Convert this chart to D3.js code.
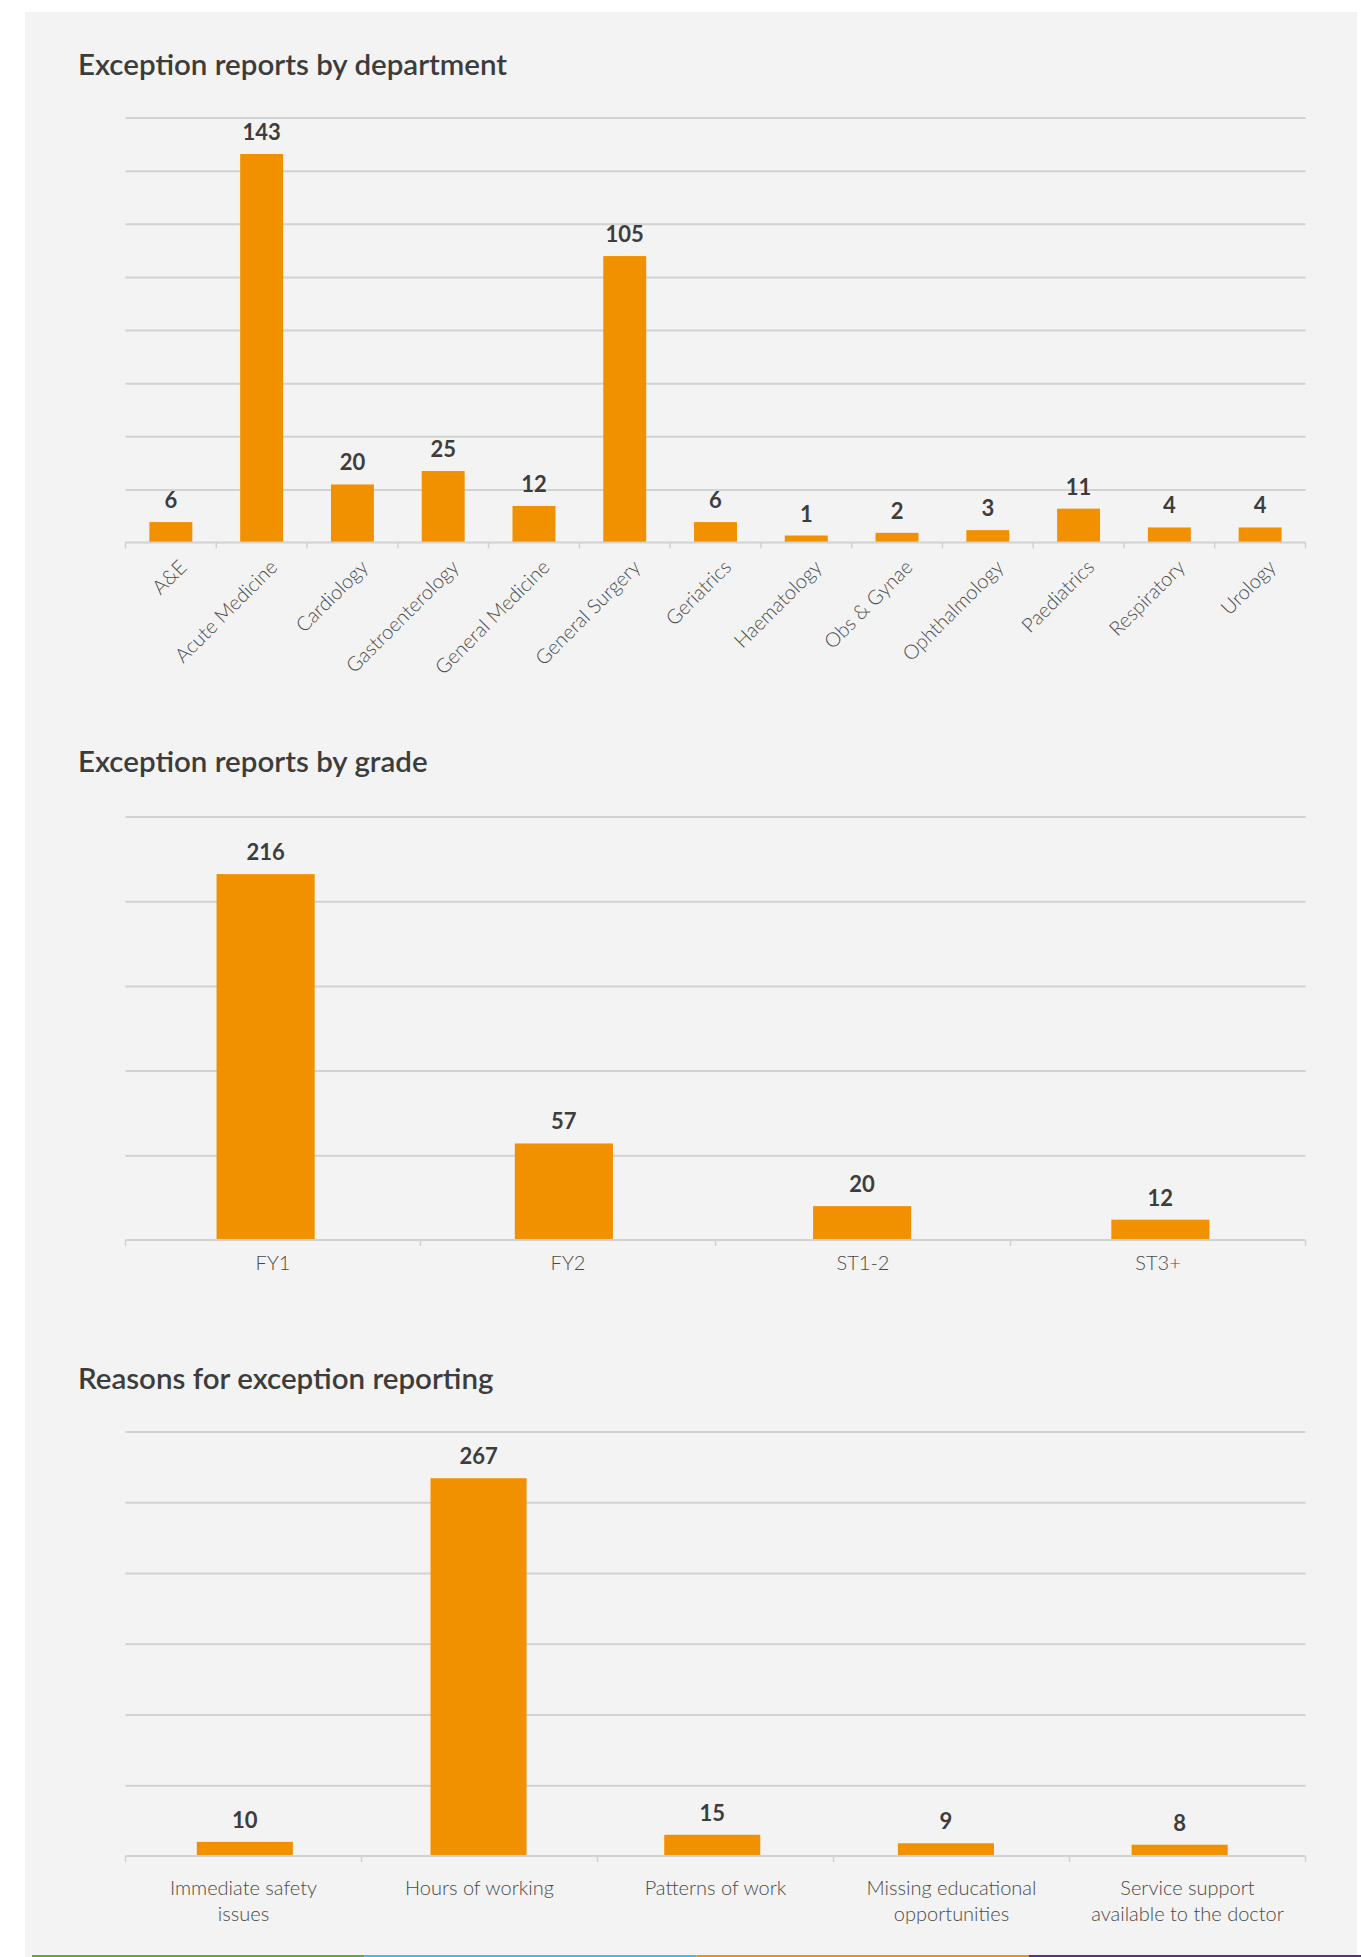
<!DOCTYPE html>
<html>
<head>
<meta charset="utf-8">
<script src="https://cdn.jsdelivr.net/npm/d3@7"></script>
<style>
  body { margin: 0; background: #ffffff; }
  svg { display: block; font-family: Lato, "Open Sans", sans-serif; }
</style>
</head>
<body>
<div id="chart"></div>
<script>
// data
const deptCategories = ['A&E', 'Acute Medicine', 'Cardiology', 'Gastroenterology', 'General Medicine',
  'General Surgery', 'Geriatrics', 'Haematology', 'Obs & Gynae', 'Ophthalmology', 'Paediatrics',
  'Respiratory', 'Urology'];
const deptValues = [6, 143, 20, 25, 12, 105, 6, 1, 2, 3, 11, 4, 4];
const deptTicks = [20, 40, 60, 80, 100, 120, 140, 160];

const gradeCategories = ['FY1', 'FY2', 'ST1-2', 'ST3+'];
const gradeValues = [216, 57, 20, 12];
const gradeTicks = [50, 100, 150, 200, 250];

const reasonCategories = ['Immediate safety\nissues', 'Hours of working', 'Patterns of work',
  'Missing educational\nopportunities', 'Service support\navailable to the doctor'];
const reasonValues = [10, 267, 15, 9, 8];
const reasonTicks = [50, 100, 150, 200, 250, 300];

const stripeColours = ['#5cae2e', '#38c0ee', '#f39200', '#5b2d86'];

const W = 1361, H = 1957;
const ORANGE = '#f29100';
const GRID = '#d2d2d2';

const svg = d3.select('#chart').append('svg')
  .attr('width', W)
  .attr('height', H);

// grey card
svg.append('rect')
  .attr('x', 25).attr('y', 12)
  .attr('width', 1332).attr('height', 1945)
  .attr('fill', '#f3f3f3');

// coloured strip along the bottom
const stripe = d3.scaleBand().domain(d3.range(stripeColours.length)).range([32, 1361]);
svg.selectAll('rect.stripe')
  .data(stripeColours)
  .enter()
  .append('rect')
  .attr('class', 'stripe')
  .attr('x', (d, i) => stripe(i))
  .attr('y', 1955)
  .attr('width', stripe.bandwidth())
  .attr('height', 2)
  .attr('fill', d => d);

function drawChart(opt) {
  const left = 125.5, right = 1305.5;
  const g = svg.append('g');

  g.append('text')
    .attr('x', 78)
    .attr('y', opt.titleY)
    .attr('font-size', 29.5)
    .attr('font-weight', 600)
    .attr('fill', '#3c3c3c')
    .text(opt.title);

  const x = d3.scaleBand()
    .domain(opt.categories)
    .range([left, right])
    .paddingInner(opt.pad)
    .paddingOuter(opt.pad / 2);

  // bars get their own band scale, the original sits a little off the tick grid
  const xb = x.copy().range(opt.barRange || [left, right]);

  const max = opt.ticks[opt.ticks.length - 1];
  const y = d3.scaleLinear().domain([0, max]).range([opt.bottom, opt.top]);
  // value scale of the bars (chart 1 bars are drawn a touch taller than its grid)
  const yv = d3.scaleLinear().domain([0, max]).range(opt.valueRange || [opt.bottom, opt.top]);

  // gridlines
  const grid = g.append('g')
    .attr('transform', `translate(${left},0)`)
    .call(d3.axisRight(y).tickValues(opt.ticks).tickSize(right - left).tickFormat(''));
  grid.select('.domain').remove();
  grid.selectAll('line').attr('stroke', GRID).attr('stroke-width', 2);

  const data = opt.categories.map((c, i) => ({ c: c, v: opt.values[i] }));

  g.selectAll('rect.bar')
    .data(data)
    .enter()
    .append('rect')
    .attr('class', 'bar')
    .attr('x', d => xb(d.c))
    .attr('y', d => yv(d.v))
    .attr('width', xb.bandwidth())
    .attr('height', d => y(0) - yv(d.v))
    .attr('fill', ORANGE);

  // base line with ticks on the category boundaries
  g.append('line')
    .attr('x1', left).attr('x2', right)
    .attr('y1', y(0)).attr('y2', y(0))
    .attr('stroke', GRID).attr('stroke-width', 2);
  g.selectAll('line.bound')
    .data(d3.range(opt.categories.length + 1))
    .enter()
    .append('line')
    .attr('class', 'bound')
    .attr('x1', i => left + i * x.step())
    .attr('x2', i => left + i * x.step())
    .attr('y1', y(0))
    .attr('y2', y(0) + 6)
    .attr('stroke', GRID)
    .attr('stroke-width', 1.5);

  g.selectAll('text.val')
    .data(data)
    .enter()
    .append('text')
    .attr('class', 'val')
    .attr('x', d => xb(d.c) + xb.bandwidth() / 2)
    .attr('y', d => yv(d.v) - 14)
    .attr('text-anchor', 'middle')
    .attr('font-size', 22)
    .attr('font-weight', 700)
    .attr('fill', '#3d3d3d')
    .text(d => d.v);

  const labels = g.selectAll('text.cat')
    .data(opt.categories)
    .enter()
    .append('text')
    .attr('class', 'cat')
    .attr('font-size', 20)
    .attr('font-weight', 300)
    .attr('fill', '#4a4a4a');

  if (opt.rotate) {
    labels
      .attr('transform', d => `translate(${x(d) + x.bandwidth() / 2 + 12},${y(0) + 21}) rotate(-45)`)
      .attr('text-anchor', 'end')
      .attr('dy', '0.35em')
      .text(d => d);
  } else {
    labels
      .attr('text-anchor', 'middle')
      .each(function (d) {
        const t = d3.select(this);
        d.split('\n').forEach((line, k) => {
          t.append('tspan')
            .attr('x', x(d) + x.bandwidth() / 2)
            .attr('y', y(0) + opt.labelGap + k * 26)
            .text(line);
        });
      });
  }
}

drawChart({
  title: 'Exception reports by department', titleY: 75,
  categories: deptCategories, values: deptValues, ticks: deptTicks,
  top: 117.5, bottom: 542.5, pad: 0.527, rotate: true, valueRange: [538.2, 108.3]
});

drawChart({
  title: 'Exception reports by grade', titleY: 772,
  categories: gradeCategories, values: gradeValues, ticks: gradeTicks,
  top: 816.5, bottom: 1240, pad: 0.671, labelGap: 30, barRange: [116.5, 1309.5]
});

drawChart({
  title: 'Reasons for exception reporting', titleY: 1389,
  categories: reasonCategories, values: reasonValues, ticks: reasonTicks,
  top: 1431.5, bottom: 1856, pad: 0.589, labelGap: 39, barRange: [128, 1296.5]
});
</script>
</body>
</html>
